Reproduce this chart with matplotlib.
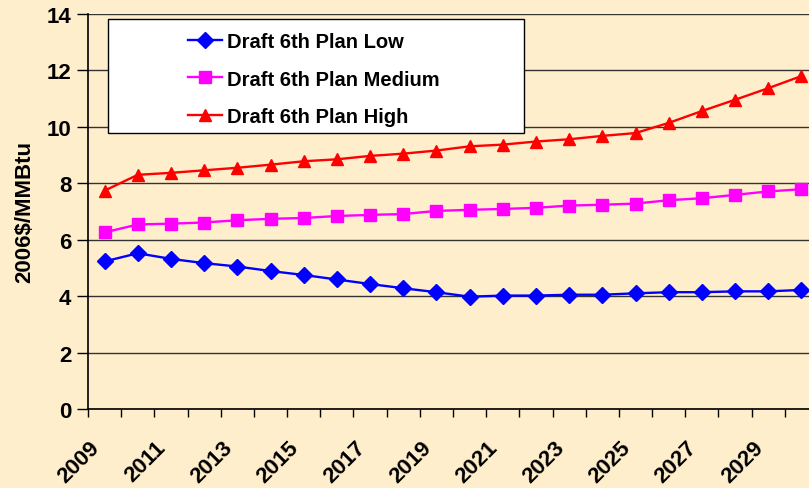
"""Draft 6th Plan natural gas price forecasts (Low / Medium / High)."""

import matplotlib

matplotlib.use("Agg")
import matplotlib.pyplot as plt
from matplotlib.patches import Rectangle
from matplotlib.ticker import FixedLocator
from matplotlib.transforms import ScaledTranslation

years = list(range(2009, 2031))
low = [5.23, 5.52, 5.32, 5.17, 5.05, 4.89, 4.75, 4.59, 4.43, 4.28, 4.14,
       3.98, 4.02, 4.02, 4.05, 4.05, 4.10, 4.14, 4.14, 4.17, 4.17, 4.22]
medium = [6.26, 6.54, 6.57, 6.61, 6.69, 6.74, 6.77, 6.84, 6.88, 6.91, 7.02,
          7.06, 7.09, 7.13, 7.21, 7.24, 7.28, 7.40, 7.47, 7.59, 7.71, 7.79]
high = [7.74, 8.30, 8.37, 8.46, 8.55, 8.66, 8.78, 8.85, 8.97, 9.05, 9.16,
        9.31, 9.37, 9.48, 9.56, 9.68, 9.78, 10.14, 10.56, 10.96, 11.37, 11.80]
series_labels = ["Draft 6th Plan Low", "Draft 6th Plan Medium", "Draft 6th Plan High"]
y_ticks = [0, 2, 4, 6, 8, 10, 12, 14]

BG = "#FFEECC"
plt.rcParams["font.family"] = ["Liberation Sans", "DejaVu Sans"]
plt.rcParams["font.weight"] = "bold"

W, H = 809, 489
fig = plt.figure(figsize=(W / 100, H / 100), dpi=100, facecolor=BG)
ax = fig.add_axes([88 / W, (H - 410) / H, (818 - 88) / W, 395 / H])
ax.set_facecolor(BG)

x = list(range(len(years)))
ax.plot(x, low, color="#0000FF", marker="D", markersize=8, lw=1.7, label=series_labels[0])
ax.plot(x, medium, color="#FF00FF", marker="s", markersize=8, lw=1.7, label=series_labels[1])
ax.plot(x, high, color="#FF0000", marker="^", markersize=9, lw=1.7, label=series_labels[2])

ax.set_xlim(-0.5, len(years) - 0.5)
ax.set_ylim(0, 14)
ax.set_yticks(y_ticks)
ax.set_yticklabels([str(v) for v in y_ticks], fontsize=16, fontweight="bold")
ax.yaxis.grid(True, color="#333333", lw=1)
ax.set_axisbelow(True)
ax.tick_params(axis="y", length=8, width=1, pad=4, direction="out")

# category axis: tick marks between categories, labels every other year
ax.xaxis.set_minor_locator(FixedLocator([i - 0.5 for i in range(len(years) + 1)]))
ax.set_xticks(x[::2])
ax.set_xticklabels([str(y) for y in years[::2]], fontsize=16, fontweight="bold",
                   rotation=45, ha="right", va="center", rotation_mode="anchor")
ax.tick_params(axis="x", which="major", length=0, pad=25)
ax.tick_params(axis="x", which="minor", length=6, width=1, direction="out")
shift = ScaledTranslation(-8 / 100, 0, fig.dpi_scale_trans)
for lbl in ax.get_xticklabels():
    lbl.set_transform(lbl.get_transform() + shift)

for side in ["top", "right"]:
    ax.spines[side].set_visible(False)
ax.spines["left"].set_linewidth(1.2)
ax.spines["bottom"].set_linewidth(1.2)

ax.set_ylabel("2006$/MMBtu", fontsize=16, fontweight="bold", labelpad=8)

# legend box drawn separately (Excel-style wide frame with entries offset right)
fig.add_artist(Rectangle((108 / W, (H - 134) / H), (524 - 108) / W, 114 / H,
                         transform=fig.transFigure, facecolor="white",
                         edgecolor="black", lw=1, zorder=5))
leg = fig.legend(loc="upper left", bbox_to_anchor=(188 / W, (H - 33) / H),
                 frameon=False, fontsize=14.5, handlelength=1.7,
                 borderpad=0, labelspacing=0.92, handletextpad=0.25,
                 borderaxespad=0)
leg.set_zorder(6)
for t in leg.get_texts():
    t.set_fontweight("bold")

fig.savefig("out.png", dpi=100, facecolor=BG)
